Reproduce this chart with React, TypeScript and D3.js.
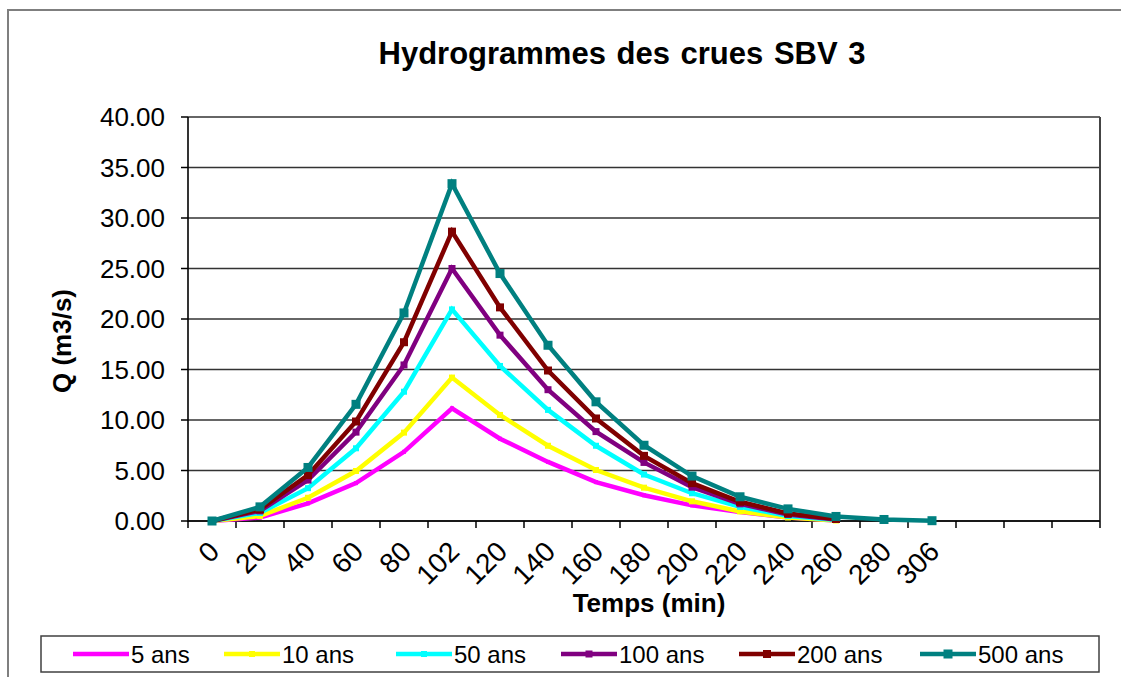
import React from "react";
import * as d3 from "d3";

const categories = ["0", "20", "40", "60", "80", "102", "120", "140", "160", "180", "200", "220", "240", "260", "280", "306", "", "", ""];
const yTicks = [0, 5, 10, 15, 20, 25, 30, 35, 40];

const s5 = [0, 0.35, 1.75, 3.75, 6.85, 11.15, 8.15, 5.85, 3.85, 2.55, 1.55, 0.9, 0.35, 0.05];
const s10 = [0, 0.5, 2.3, 4.95, 8.75, 14.2, 10.5, 7.45, 5.05, 3.3, 1.95, 0.95, 0.35, 0.05];
const s50 = [0, 0.8, 3.25, 7.2, 12.8, 20.95, 15.35, 11.0, 7.45, 4.6, 2.75, 1.4, 0.5, 0.1];
const s100 = [0, 1.0, 4.05, 8.8, 15.45, 25.0, 18.4, 13.0, 8.85, 5.8, 3.35, 1.7, 0.65, 0.15];
const s200 = [0, 1.15, 4.55, 9.85, 17.7, 28.65, 21.15, 14.9, 10.15, 6.45, 3.75, 1.9, 0.75, 0.2];
const s500 = [0, 1.4, 5.3, 11.55, 20.6, 33.4, 24.5, 17.4, 11.8, 7.5, 4.45, 2.4, 1.2, 0.45, 0.15, 0.03];

const seriesNames = ["5 ans", "10 ans", "50 ans", "100 ans", "200 ans", "500 ans"];
const seriesValues = [s5, s10, s50, s100, s200, s500];
const seriesColors = ["#ff00ff", "#ffff00", "#00ffff", "#800080", "#800000", "#008080"];
const markerSizes = [4, 6, 6, 7, 8, 9];
const legendX = [73, 224, 396, 561, 739, 920];

const FONT = "'Liberation Sans', Arial, sans-serif";

export default function App() {
  const W = 1121, H = 677;
  const left = 188, right = 1100, top = 117, bottom = 521;
  const x = d3.scaleBand<number>().domain(categories.map((_, i) => i)).range([left, right]).paddingInner(0).paddingOuter(0);
  const y = d3.scaleLinear().domain([0, 40]).range([bottom, top]);
  const cx = (i: number) => (x(i) as number) + x.bandwidth() / 2;
  const line = d3.line<number>().x((_, i) => cx(i)).y((d) => y(d));
  const boundaries = d3.range(categories.length + 1).map((i) => left + i * x.bandwidth());

  return (
    <svg width={W} height={H} style={{ position: "absolute", left: 0, top: 0, background: "#fff" }} fontFamily={FONT}>
      <rect x={0} y={0} width={W} height={H} fill="#fff" />
      {/* outer chart border */}
      <rect x={8} y={10} width={W + 10} height={H + 10} fill="none" stroke="#7f7f7f" strokeWidth={2} />
      {/* title */}
      <text x={622} y={64} textAnchor="middle" fontSize={31} fontWeight="bold" wordSpacing={2} fill="#000">Hydrogrammes des crues SBV 3</text>

      {/* gridlines */}
      {yTicks.map((t) => (
        <line key={"g" + t} x1={left} x2={right} y1={y(t)} y2={y(t)} stroke="#333" strokeWidth={1.5} />
      ))}
      <line x1={right} x2={right} y1={top} y2={bottom} stroke="#444" strokeWidth={2} />
      {/* y axis */}
      <line x1={left} x2={left} y1={top} y2={bottom + 1} stroke="#000" strokeWidth={1.6} />
      {yTicks.map((t) => (
        <g key={"yt" + t}>
          <line x1={left - 7} x2={left} y1={y(t)} y2={y(t)} stroke="#000" strokeWidth={1.5} />
          <text x={165} y={y(t)} dy="0.36em" textAnchor="end" fontSize={26} fill="#000">{t.toFixed(2)}</text>
        </g>
      ))}
      {/* x axis */}
      <line x1={left} x2={right} y1={bottom} y2={bottom} stroke="#000" strokeWidth={1.6} />
      {boundaries.map((b, i) => (
        <line key={"xt" + i} x1={b} x2={b} y1={bottom} y2={bottom + 7} stroke="#000" strokeWidth={1.5} />
      ))}
      {categories.map((c, i) =>
        c ? (
          <text key={"xl" + i} transform={`translate(${cx(i) + 2},${bottom + 25}) rotate(-45)`} textAnchor="end" dy="0.36em" fontSize={28} fill="#000">{c}</text>
        ) : null
      )}
      <text x={649} y={612} textAnchor="middle" fontSize={26} fontWeight="bold" fill="#000">Temps (min)</text>
      <text transform={`translate(71,341) rotate(-90)`} textAnchor="middle" fontSize={26} fontWeight="bold" fill="#000">Q (m3/s)</text>

      {/* series */}
      {seriesValues.map((vals, si) => (
        <g key={"s" + si}>
          <path d={line(vals) || ""} fill="none" stroke={seriesColors[si]} strokeWidth={4.5} strokeLinejoin="miter" />
          {vals.map((v, i) => (
            <rect key={i} x={cx(i) - markerSizes[si] / 2} y={y(v) - markerSizes[si] / 2} width={markerSizes[si]} height={markerSizes[si]} fill={seriesColors[si]} />
          ))}
        </g>
      ))}

      {/* legend */}
      <rect x={41} y={636} width={1058} height={36} fill="#fff" stroke="#404040" strokeWidth={1.5} />
      {seriesNames.map((n, si) => (
        <g key={"l" + si}>
          <line x1={legendX[si]} x2={legendX[si] + 56} y1={654} y2={654} stroke={seriesColors[si]} strokeWidth={4.5} />
          <rect x={legendX[si] + 28 - markerSizes[si] / 2} y={654 - markerSizes[si] / 2} width={markerSizes[si]} height={markerSizes[si]} fill={seriesColors[si]} />
          <text x={legendX[si] + 58} y={654} dy="0.36em" fontSize={24} fill="#000">{n}</text>
        </g>
      ))}
    </svg>
  );
}
